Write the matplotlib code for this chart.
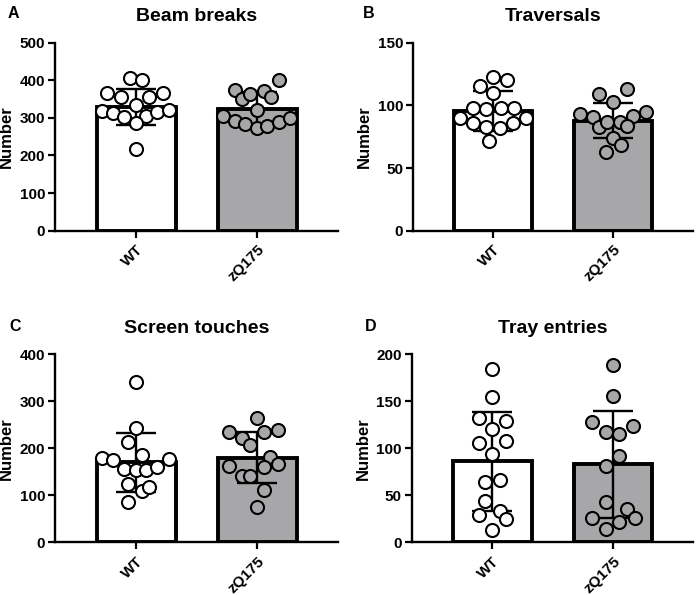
import numpy as np
from matplotlib import pyplot as plt

plt.rcParams['font.family'] = ['Liberation Sans', 'DejaVu Sans']
plt.rcParams['font.weight'] = 'bold'

groups = ['WT', 'zQ175']
titles = ['Beam breaks', 'Traversals', 'Screen touches', 'Tray entries']
letters = ['A', 'B', 'C', 'D']

# ------------ individual animals (value, horizontal offset of the dot)
a_wt = [406, 402, 365, 356, 356, 365, 334, 318, 312, 301, 306, 315, 321, 286, 216]
a_wt_dx = [-0.055, 0.046, -0.243, -0.124, 0.104, 0.22, 0, -0.284, -0.193, -0.102, 0.083, 0.174, 0.267, 0, 0]
a_zq = [401, 374, 350, 363, 372, 356, 321, 305, 293, 283, 274, 279, 288, 299]
a_zq_dx = [0.176, -0.188, -0.127, -0.064, 0.052, 0.11, 0, -0.279, -0.188, -0.099, 0, 0.083, 0.176, 0.27]
a_mean = [329, 323]
a_sd = [48, 45]

b_wt = [122.9, 120.2, 115.7, 109.6, 98.1, 96.9, 98.1, 98.1, 90.2, 90.2, 85.7, 83, 82.2, 85.7, 71.6]
b_wt_dx = [0, 0.116, -0.113, 0, -0.169, -0.058, 0.06, 0.171, -0.279, 0.276, -0.169, -0.058, 0.052, 0.162, -0.04]
b_zq = [108.8, 113.1, 102.4, 92.9, 90.5, 95, 91.5, 83, 86.5, 86.5, 83.8, 74.2, 68.1, 62.5]
b_zq_dx = [-0.116, 0.116, 0, -0.276, -0.171, 0.277, 0.166, -0.116, -0.055, 0.055, 0.116, 0, 0.061, -0.06]
b_mean = [95.5, 87.8]
b_sd = [15.8, 14.2]

c_wt = [340, 244, 213, 186, 180, 174, 177, 156, 154, 154, 161, 123, 109, 118, 85]
c_wt_dx = [0, 0, -0.064, 0.046, -0.284, -0.193, 0.267, -0.102, 0, 0.083, 0.174, -0.064, 0.046, 0.11, -0.064]
c_zq = [264, 235, 235, 239, 221, 206, 181, 167, 163, 160, 142, 140, 111, 76]
c_zq_dx = [0, -0.237, 0.052, 0.17, -0.127, -0.064, 0.107, 0.17, -0.237, 0.052, -0.127, -0.064, 0.052, 0]
c_mean = [170, 180]
c_sd = [62, 54]

d_wt = [184, 155, 132, 129, 120.5, 106, 108, 94, 64.5, 66, 44, 29, 33.6, 24.5, 13]
d_wt_dx = [0, 0, -0.113, 0.116, 0, -0.113, 0.116, 0, -0.058, 0.06, -0.058, -0.113, 0.06, 0.116, 0]
d_zq = [188.6, 155.6, 128.3, 124, 117.7, 115.2, 92, 81, 43, 35, 25.5, 25.5, 22, 14]
d_zq_dx = [0, 0, -0.174, 0.17, -0.06, 0.055, 0.055, -0.06, -0.06, 0.116, -0.174, 0.18, 0.055, -0.06]
d_mean = [86, 83]
d_sd = [53, 57]

yticks = [np.arange(0, 501, 100), np.arange(0, 151, 50), np.arange(0, 401, 100), np.arange(0, 201, 50)]

panels = [
    (a_wt, a_wt_dx, a_zq, a_zq_dx, a_mean, a_sd),
    (b_wt, b_wt_dx, b_zq, b_zq_dx, b_mean, b_sd),
    (c_wt, c_wt_dx, c_zq, c_zq_dx, c_mean, c_sd),
    (d_wt, d_wt_dx, d_zq, d_zq_dx, d_mean, d_sd),
]

# axes rectangles (left, bottom, width, height) in figure fractions
rects = [
    [0.0786, 0.6123, 0.404, 0.316],
    [0.590, 0.6123, 0.400, 0.316],
    [0.0786, 0.0886, 0.404, 0.316],
    [0.588, 0.0886, 0.402, 0.316],
]
letter_pos = [(0.011, 0.978), (0.519, 0.978), (0.014, 0.451), (0.521, 0.452)]

grey = '#a7a7a9'
fig = plt.figure(figsize=(7, 5.95), dpi=100, facecolor='white')

for i, (wt, wt_dx, zq, zq_dx, mean, sd) in enumerate(panels):
    ax = fig.add_axes(rects[i])
    x = np.arange(len(groups))
    ax.bar(x, mean, width=0.65, color=['white', grey], edgecolor='black',
           linewidth=2.8, zorder=2)
    ax.errorbar(x, mean, yerr=sd, fmt='none', ecolor='black', elinewidth=1.7,
                capsize=14.5, capthick=1.7, zorder=3)
    ax.scatter(np.array(wt_dx), wt, s=88, facecolor='white', edgecolor='black',
               linewidth=1.5, zorder=4, clip_on=False)
    ax.scatter(1 + np.array(zq_dx), zq, s=88, facecolor=grey, edgecolor='black',
               linewidth=1.5, zorder=4, clip_on=False)

    ax.set_xlim(-0.67, 1.665)
    ax.set_ylim(yticks[i][0], yticks[i][-1])
    ax.set_yticks(yticks[i])
    ax.set_xticks(x)
    ax.set_xticklabels(groups, rotation=45, ha='right', rotation_mode='anchor',
                       fontsize=11, fontweight='bold')
    ax.tick_params(axis='y', labelsize=11, width=1.6, length=5, pad=2)
    ax.tick_params(axis='x', width=1.6, length=5)
    for lab in ax.get_yticklabels():
        lab.set_fontweight('bold')
    for side in ['top', 'right']:
        ax.spines[side].set_visible(False)
    for side in ['left', 'bottom']:
        ax.spines[side].set_linewidth(1.7)
    ax.set_ylabel('Number', fontsize=12, fontweight='bold', labelpad=4)
    ax.set_title(titles[i], fontsize=14, fontweight='bold', pad=15.5)
    fig.text(letter_pos[i][0], letter_pos[i][1], letters[i], fontsize=11.5,
             fontweight='bold', va='center', ha='left')

plt.savefig('out.png', dpi=100)
